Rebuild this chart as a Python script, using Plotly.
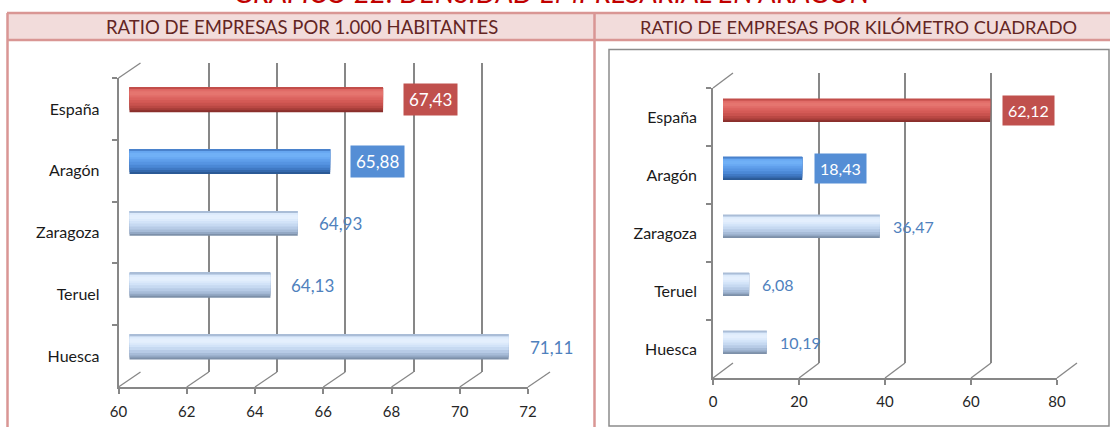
import plotly.graph_objects as go

W, H = 1110, 427

# ---------------- data ----------------
categories = ["España", "Aragón", "Zaragoza", "Teruel", "Huesca"]
ratio_habitantes = [67.43, 65.88, 64.93, 64.13, 71.11]
ratio_km2 = [62.12, 18.43, 36.47, 6.08, 10.19]
ticks_habitantes = [60, 62, 64, 66, 68, 70, 72]
ticks_km2 = [0, 20, 40, 60, 80]
tick_labels_habitantes = ["60", "62", "64", "66", "68", "70", "72"]
tick_labels_km2 = ["0", "20", "40", "60", "80"]
title_text = "GRÁFICO 22: DENSIDAD EMPRESARIAL EN ARAGÓN"
header_left = "RATIO DE EMPRESAS POR 1.000 HABITANTES"
header_right = "RATIO DE EMPRESAS POR KILÓMETRO CUADRADO"

# ---------------- styles ----------------
FONT = "Lato"
GRID = "#878787"
AXC = "#878787"
PINK = "#d99694"
highlight_style = {"España": "red", "Aragón": "blue"}
# cylinder shading layers, painted in order (bottom edge first, top edge line last)
LAYER_SPANS = [(0.0, 1.0), (0.0, 0.92), (0.0, 0.84), (0.0, 0.74), (0.0, 0.62),
               (0.0, 0.50), (0.08, 0.40), (0.15, 0.32), (0.0, 0.06)]
palettes = {
    "red":   ["#8a2f2c", "#a43d39", "#ba4844", "#c9524e", "#d45a56", "#db625e",
              "#e06b67", "#e5756f", "#c24e4a"],
    "blue":  ["#2b5a96", "#3569ad", "#4079c4", "#4b88d6", "#5694e2", "#5f9eea",
              "#68a8f2", "#70b0f6", "#4a82cc"],
    "light": ["#7d90a9", "#93a8c4", "#a7bcd8", "#b7cbe6", "#c6d9f1", "#d2e3f8",
              "#dceafb", "#e4effd", "#aabdd7"],
}
BAR_W = 0.40
label_box = {"red": "#c0504d", "blue": "#558ed5"}
LIGHT_LABEL = "#4f81bd"

charts = [
    dict(values=ratio_habitantes, ticks=ticks_habitantes, labels=tick_labels_habitantes,
         front_x=(118.5, 528), front_y=(78, 387), back_x=(140.5, 550), back_y=(63, 372),
         bar_x=(129.5, 539), bar_y=(69, 378), label_shift=20, label_size=17,
         xstandoff=5, ystandoff=14),
    dict(values=ratio_km2, ticks=ticks_km2, labels=tick_labels_km2,
         front_x=(713, 1057), front_y=(88, 378), back_x=(733, 1077), back_y=(73, 363),
         bar_x=(723, 1067), bar_y=(81.5, 371.5), label_shift=12, label_size=16,
         xstandoff=4, ystandoff=11),
]


def X(px):
    return px / W


def Y(py):
    return 1 - py / H


def fmap(v, r, span):
    return span[0] + (v - r[0]) / (r[1] - r[0]) * (span[1] - span[0])


def axname(a, k):
    return f"{a}axis" if k == 1 else f"{a}axis{k}"


def axref(a, k):
    return a if k == 1 else f"{a}{k}"


def fmt(v):
    return f"{v:.2f}".replace(".", ",")


fig = go.Figure()
axes = {}
shapes = []
n = len(categories)
cat_range = [n - 0.5, -0.5]

for i, ch in enumerate(charts):
    r = (ch["ticks"][0], ch["ticks"][-1])
    kb, kf, kr = 3 * i + 1, 3 * i + 2, 3 * i + 3

    # back wall grid
    axes[axname("x", kb)] = dict(domain=[X(ch["back_x"][0]), X(ch["back_x"][1])], range=list(r),
                                tickvals=ch["ticks"], showticklabels=False, showgrid=True,
                                gridcolor=GRID, gridwidth=1.6, zeroline=False, showline=False,
                                ticks="", automargin=False, anchor=axref("y", kb))
    axes[axname("y", kb)] = dict(domain=[Y(ch["back_y"][1]), Y(ch["back_y"][0])], range=[0, 1],
                                visible=False, automargin=False, anchor=axref("x", kb))
    fig.add_trace(go.Scatter(x=[r[0]], y=[0.5], mode="markers", marker=dict(opacity=0),
                             xaxis=axref("x", kb), yaxis=axref("y", kb),
                             hoverinfo="skip", showlegend=False))

    # front axes (tick labels, category labels)
    axes[axname("x", kf)] = dict(domain=[X(ch["front_x"][0]), X(ch["front_x"][1])], range=list(r),
                                tickvals=ch["ticks"], ticktext=ch["labels"], ticks="outside",
                                ticklen=5, tickwidth=1.5, tickcolor=AXC, showline=True,
                                linecolor=AXC, linewidth=1.5, showgrid=False, zeroline=False,
                                tickfont=dict(family=FONT, size=15, color="#262626"),
                                ticklabelstandoff=ch["xstandoff"], automargin=False,
                                anchor=axref("y", kf))
    axes[axname("y", kf)] = dict(domain=[Y(ch["front_y"][1]), Y(ch["front_y"][0])],
                                type="category", categoryorder="array", categoryarray=categories,
                                range=cat_range, tickson="boundaries", ticks="outside", ticklen=5,
                                tickwidth=1.5, tickcolor=AXC, showline=True, linecolor=AXC,
                                linewidth=1.5, showgrid=False, zeroline=False,
                                tickfont=dict(family=FONT, size=16, color="#1a1a1a"),
                                ticklabelstandoff=ch["ystandoff"], automargin=False,
                                anchor=axref("x", kf))
    fig.add_trace(go.Scatter(x=[r[0]] * n, y=categories, mode="markers", marker=dict(opacity=0),
                             xaxis=axref("x", kf), yaxis=axref("y", kf),
                             hoverinfo="skip", showlegend=False))

    # bars (mid depth)
    axes[axname("x", kr)] = dict(domain=[X(ch["bar_x"][0]), X(ch["bar_x"][1])], range=list(r),
                                visible=False, automargin=False, anchor=axref("y", kr))
    axes[axname("y", kr)] = dict(domain=[Y(ch["bar_y"][1]), Y(ch["bar_y"][0])], type="category",
                                categoryorder="array", categoryarray=categories, range=cat_range,
                                visible=False, automargin=False, anchor=axref("x", kr))
    for layer, (a, b) in enumerate(LAYER_SPANS):
        colors = [palettes[highlight_style.get(c, "light")][layer] for c in categories]
        fig.add_trace(go.Bar(x=ch["values"], y=categories, orientation="h",
                             width=BAR_W * (b - a), offset=-BAR_W / 2 + BAR_W * a,
                             marker=dict(color=colors, line=dict(width=0)),
                             xaxis=axref("x", kr), yaxis=axref("y", kr),
                             hoverinfo="skip", showlegend=False))

    # data labels
    for c, v in zip(categories, ch["values"]):
        st = highlight_style.get(c, "light")
        boxed = st in label_box
        fig.add_annotation(x=v, y=c, xref=axref("x", kr), yref=axref("y", kr), text=fmt(v),
                           xanchor="left", yanchor="middle", xshift=ch["label_shift"],
                           showarrow=False,
                           font=dict(family=FONT, size=ch["label_size"],
                                     color="white" if boxed else LIGHT_LABEL),
                           bgcolor=label_box.get(st, "rgba(0,0,0,0)"),
                           borderpad=5 if boxed else 0)

    # 3D floor diagonals and top-left wall edge
    for t in ch["ticks"]:
        shapes.append(dict(type="line", xref="paper", yref="paper",
                           x0=X(fmap(t, r, ch["front_x"])), y0=Y(ch["front_y"][1]),
                           x1=X(fmap(t, r, ch["back_x"])), y1=Y(ch["back_y"][1]),
                           line=dict(color=AXC, width=1.3)))
    shapes.append(dict(type="line", xref="paper", yref="paper",
                       x0=X(ch["front_x"][0]), y0=Y(ch["front_y"][0]),
                       x1=X(ch["back_x"][0]), y1=Y(ch["back_y"][0]),
                       line=dict(color=AXC, width=1.3)))

# ---------------- panel frames ----------------
shapes.append(dict(type="rect", xref="paper", yref="paper", layer="below",
                   x0=X(7), x1=X(1115), y0=Y(40), y1=Y(13), fillcolor="#f2dcdb",
                   line=dict(width=0)))
for (x0, y0, x1, y1) in [(7, 13, 1115, 13), (7, 40, 1115, 40), (7.5, 13, 7.5, 430),
                         (594.5, 13, 594.5, 430)]:
    shapes.append(dict(type="line", xref="paper", yref="paper", x0=X(x0), y0=Y(y0),
                       x1=X(x1), y1=Y(y1), line=dict(color=PINK, width=2.5)))
shapes.append(dict(type="rect", xref="paper", yref="paper", x0=X(609), x1=X(1109),
                   y0=Y(426), y1=Y(49.5), line=dict(color="#8c8c8c", width=1.5)))

# ---------------- titles ----------------
fig.add_annotation(x=X(552), y=Y(-8), xref="paper", yref="paper", text=f"<i>{title_text}</i>",
                   showarrow=False, xanchor="center", yanchor="middle",
                   font=dict(family=FONT, size=28, color="#c00000"))
fig.add_annotation(x=X(302), y=Y(27), xref="paper", yref="paper", text=header_left,
                   showarrow=False, xanchor="center", yanchor="middle",
                   font=dict(family=FONT, size=18.5, color="#632523"))
fig.add_annotation(x=X(858), y=Y(27), xref="paper", yref="paper", text=header_right,
                   showarrow=False, xanchor="center", yanchor="middle",
                   font=dict(family=FONT, size=18.2, color="#632523"))

fig.update_layout(width=W, height=H, margin=dict(l=0, r=0, t=0, b=0, autoexpand=False),
                  paper_bgcolor="white", plot_bgcolor="rgba(0,0,0,0)",
                  barmode="overlay", showlegend=False, shapes=shapes, **axes)

fig.write_html("out.html", config={"displayModeBar": False},
               post_script="document.body.style.margin='0px';")
